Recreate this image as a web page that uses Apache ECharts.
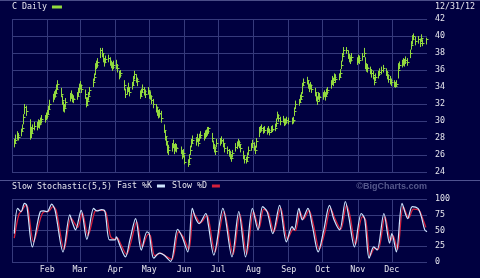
<!DOCTYPE html>
<html>
<head>
<meta charset="utf-8">
<script src="https://cdn.jsdelivr.net/npm/echarts@6/dist/echarts.min.js"></script>
<style>
    html, body { margin: 0; padding: 0; background: #000040; }
    #chart { width: 480px; height: 278px; }
</style>
</head>
<body>
<div id="chart"></div>
<script>
// C (Citigroup) daily bars, 2012 -- one row per trading week
var holidays = ['2012-01-02', '2012-01-16', '2012-02-20', '2012-04-06', '2012-05-28', '2012-07-04',
    '2012-09-03', '2012-10-29', '2012-10-30', '2012-11-22', '2012-12-25'];

var priceLow = [
    26.9, 27.3, 27.8, 27.7,
    28.2, 28.7, 29.6, 30.8, 30.6,
    27.8, 28.0, 28.6, 28.9,
    28.9, 29.2, 29.1, 29.5, 29.7,
    29.8, 30.1, 30.3, 30.8, 31.4,
    32.2, 32.5, 32.8, 33.2, 33.7,
    32.8, 31.9, 31.1, 31.0, 31.6,
    32.3, 32.6, 32.2, 32.1,
    32.5, 32.9, 33.4, 33.7, 33.3,
    32.6, 31.6, 31.8, 32.4, 33.0,
    34.0, 34.7, 35.4, 36.1, 36.3,
    37.4, 37.5, 36.9, 36.4, 36.8,
    36.9, 36.5, 36.2, 35.9, 36.1,
    36.1, 35.7, 34.9, 35.1,
    33.6, 32.7, 33.1, 33.4, 32.9,
    33.7, 34.2, 34.9, 34.5, 34.1,
    32.6, 32.9, 33.3, 33.0, 32.7,
    33.1, 32.6, 32.5, 32.0, 31.5,
    31.0, 30.6, 30.3, 30.4, 29.8,
    28.6, 27.7, 27.1, 26.2, 26.0,
    26.4, 26.8, 26.1, 26.4, 26.3,
    26.1, 25.5, 25.7, 24.9,
    24.6, 25.0, 26.0, 26.9, 27.3,
    27.1, 27.5, 27.0, 27.6, 27.9,
    27.7, 27.9, 28.1, 28.3, 28.5,
    27.5, 26.7, 26.3, 26.0, 26.9,
    27.1, 27.3, 26.9, 26.3,
    26.1, 25.8, 25.5, 25.2, 25.7,
    26.4, 26.7, 27.0, 26.8, 26.3,
    25.5, 25.0, 25.0, 25.3, 26.0,
    26.5, 26.9, 26.5, 26.1, 26.9,
    28.1, 28.6, 28.8, 28.5, 28.6,
    28.4, 28.6, 28.3, 28.6, 28.7,
    28.8, 29.3, 30.2, 29.9, 29.5,
    29.8, 29.4, 29.5, 29.7, 29.6,
    29.6, 29.7, 30.6, 31.4,
    31.8, 32.2, 32.5, 33.2, 34.1,
    34.3, 33.8, 33.4, 33.7, 33.3,
    32.9, 32.3, 31.9, 32.5, 32.3,
    32.5, 32.8, 32.4, 32.9, 33.1,
    33.8, 34.3, 34.1, 34.7, 34.5,
    34.8, 35.1, 36.1, 37.0, 37.7,
    37.9, 37.3, 36.9, 36.7, 37.0,
    36.6, 36.9, 36.7,
    37.1, 37.5, 36.1, 35.8, 35.7,
    35.5, 35.1, 34.9, 34.2, 34.7,
    35.0, 35.3, 35.5, 35.7,
    35.3, 34.9, 34.5, 34.3, 34.1,
    34.0, 33.9, 34.0, 35.0, 36.1,
    36.3, 36.5, 36.4, 36.7, 36.5,
    37.4, 38.4, 39.0, 39.5, 38.9,
    39.1, 38.7, 39.3, 38.8,
    39.0
];
var priceHigh = [
    27.9, 28.4, 28.8, 28.6,
    29.1, 29.6, 30.8, 32.0, 31.8,
    30.2, 29.3, 29.6, 29.9,
    29.9, 30.2, 30.1, 30.4, 30.7,
    30.7, 31.0, 31.3, 31.8, 32.5,
    33.2, 33.5, 33.7, 34.3, 34.8,
    33.9, 33.0, 32.3, 32.0, 32.7,
    33.3, 33.6, 33.2, 33.0,
    33.4, 33.9, 34.4, 34.7, 34.3,
    33.7, 32.8, 32.8, 33.4, 34.0,
    35.0, 35.6, 36.8, 37.1, 37.4,
    38.6, 38.6, 38.0, 37.4, 37.7,
    37.8, 37.5, 37.1, 36.9, 37.1,
    37.2, 36.7, 35.9, 36.0,
    34.8, 33.8, 34.0, 34.5, 33.9,
    34.6, 35.3, 35.9, 35.5, 35.1,
    33.6, 33.8, 34.3, 34.0, 33.7,
    34.0, 33.6, 33.5, 33.0, 32.6,
    32.0, 31.7, 31.3, 31.4, 31.2,
    29.6, 28.9, 28.2, 27.6, 27.2,
    27.4, 27.8, 27.2, 27.4, 27.3,
    27.0, 26.6, 26.7, 26.0,
    25.5, 26.1, 27.1, 27.9, 28.3,
    28.1, 28.5, 27.9, 28.5, 28.8,
    28.6, 28.9, 29.0, 29.3, 29.3,
    28.6, 27.7, 27.3, 27.0, 27.9,
    28.0, 28.2, 27.9, 27.3,
    27.0, 26.7, 26.5, 26.1, 26.6,
    27.4, 27.6, 27.9, 27.7, 27.3,
    26.5, 26.0, 25.8, 26.3, 27.0,
    27.4, 27.8, 27.5, 27.1, 28.0,
    29.3, 29.4, 29.6, 29.3, 29.4,
    29.2, 29.4, 29.1, 29.4, 29.5,
    29.7, 30.3, 31.1, 30.8, 30.5,
    30.6, 30.3, 30.3, 30.5, 30.4,
    30.4, 30.5, 31.6, 32.4,
    32.6, 33.1, 33.4, 34.5, 35.0,
    35.2, 34.8, 34.4, 34.6, 34.3,
    33.9, 33.3, 32.9, 33.4, 33.3,
    33.4, 33.6, 33.4, 33.8, 34.0,
    34.8, 35.3, 35.1, 35.6, 35.5,
    35.6, 36.1, 37.1, 38.0, 38.7,
    38.7, 38.3, 37.9, 37.6, 38.0,
    37.5, 37.8, 37.7,
    38.0, 38.6, 37.5, 36.8, 36.7,
    36.4, 36.1, 35.9, 35.2, 35.6,
    35.9, 36.2, 36.4, 36.6,
    36.2, 35.9, 35.5, 35.3, 35.0,
    34.8, 34.6, 34.8, 36.8, 37.0,
    37.2, 37.4, 37.3, 37.6, 37.4,
    38.4, 39.4, 40.1, 40.3, 39.9,
    40.0, 39.7, 40.2, 39.6,
    39.8
];
var priceClose = [
    27.4, 27.8, 28.3, 28.1,
    28.8, 29.2, 30.5, 31.6, 31.2,
    29.0, 28.6, 29.2, 29.4,
    29.4, 29.8, 29.6, 30.0, 30.2,
    30.3, 30.6, 30.8, 31.4, 32.0,
    32.8, 33.0, 33.3, 33.8, 34.3,
    33.2, 32.5, 31.6, 31.5, 32.2,
    32.8, 33.1, 32.7, 32.6,
    33.0, 33.4, 34.0, 34.2, 33.8,
    33.2, 31.9, 32.3, 33.0, 33.6,
    34.6, 35.2, 36.3, 36.6, 36.9,
    38.3, 38.0, 37.4, 36.9, 37.3,
    37.4, 37.0, 36.7, 36.4, 36.6,
    36.6, 36.2, 35.4, 35.6,
    34.2, 33.2, 33.6, 34.0, 33.4,
    34.2, 34.8, 35.5, 35.0, 34.7,
    33.0, 33.4, 33.8, 33.5, 33.2,
    33.6, 33.1, 33.0, 32.5, 32.0,
    31.6, 31.2, 30.8, 31.0, 30.4,
    29.0, 28.2, 27.6, 26.9, 26.6,
    27.0, 27.3, 26.6, 27.0, 26.8,
    26.6, 26.0, 26.2, 25.2,
    25.0, 25.6, 26.6, 27.4, 27.8,
    27.6, 28.0, 27.4, 28.1, 28.4,
    28.2, 28.4, 28.6, 28.8, 29.2,
    28.0, 27.2, 26.8, 26.5, 27.4,
    27.6, 27.8, 27.4, 26.8,
    26.6, 26.3, 26.0, 25.6, 26.2,
    27.0, 27.2, 27.5, 27.3, 26.8,
    26.0, 25.5, 25.3, 25.8, 26.6,
    27.0, 27.4, 27.0, 26.6, 27.6,
    28.8, 29.0, 29.2, 28.9, 29.0,
    28.8, 29.0, 28.7, 29.0, 29.1,
    29.2, 29.8, 30.7, 30.4, 30.0,
    30.2, 29.8, 29.9, 30.1, 30.0,
    30.0, 30.1, 31.2, 32.0,
    32.2, 32.6, 33.0, 34.2, 34.6,
    34.8, 34.3, 33.9, 34.2, 33.8,
    33.4, 32.8, 32.4, 33.0, 32.8,
    33.0, 33.2, 32.9, 33.4, 33.6,
    34.3, 34.8, 34.6, 35.2, 35.0,
    35.2, 35.6, 36.6, 37.6, 38.3,
    38.4, 37.8, 37.4, 37.2, 37.5,
    37.0, 37.4, 37.2,
    37.6, 38.0, 36.6, 36.3, 36.2,
    36.0, 35.6, 35.4, 34.6, 35.2,
    35.5, 35.8, 36.0, 36.2,
    35.8, 35.4, 35.0, 34.8, 34.6,
    34.3, 34.1, 34.4, 36.0, 36.6,
    36.8, 37.0, 36.9, 37.2, 37.0,
    38.0, 39.0, 39.6, 40.0, 39.4,
    39.6, 39.2, 39.8, 39.2,
    39.6
];

// Slow stochastic (5,5): turning points, x in day of year (Jan 1 = 0)
var kDays = [2, 5, 8, 11, 13, 18, 25, 28, 31, 35, 38, 45, 51, 53, 56, 61, 66, 72, 75, 79, 82, 86, 91, 92, 95,
    100, 104, 109, 114, 119, 121, 125, 130, 134, 140, 146, 150, 155, 159, 162, 165, 171, 173, 178, 186, 194,
    200, 206, 212, 217, 221, 225, 230, 236, 242, 247, 249, 253, 256, 261, 265, 270, 275, 280, 284, 289, 294,
    297, 302, 308, 311, 315, 319, 322, 328, 333, 335, 339, 344, 349, 353, 358, 361, 364, 366];
var kVals = [45, 85, 80, 93, 90, 24, 80, 81, 80, 92, 82, 16, 75, 64, 51, 82, 36, 85, 81, 83, 80, 35, 35, 40, 27,
    8, 35, 69, 19, 48, 45, 6, 14, 11, 1, 52, 40, 16, 85, 69, 61, 77, 61, 11, 85, 8,
    80, 8, 85, 51, 88, 80, 45, 90, 32, 56, 51, 85, 67, 85, 56, 16, 51, 90, 67, 51, 96,
    72, 24, 77, 69, 6, 24, 19, 77, 30, 45, 16, 93, 69, 88, 85, 72, 51, 48];
var dDays = [2, 6, 9, 12, 14, 19, 26, 29, 32, 36, 39, 46, 52, 55, 58, 62, 67, 73, 76, 80, 83, 87, 91, 93, 96,
    101, 105, 110, 115, 120, 122, 126, 131, 135, 141, 147, 151, 156, 160, 163, 166, 172, 174, 179, 187, 195,
    201, 207, 213, 218, 222, 226, 231, 237, 243, 248, 250, 254, 257, 262, 266, 271, 276, 281, 285, 290, 295,
    298, 303, 309, 312, 316, 320, 323, 329, 334, 336, 340, 345, 350, 354, 359, 362, 365];
var dVals = [38, 75, 82, 90, 86, 32, 74, 80, 80, 88, 82, 20, 70, 62, 55, 78, 42, 80, 82, 82, 78, 40, 36, 38, 28,
    12, 32, 64, 24, 44, 42, 10, 14, 10, 4, 48, 40, 20, 78, 70, 62, 74, 62, 16, 80, 12,
    76, 12, 80, 54, 84, 78, 48, 86, 36, 52, 50, 80, 68, 82, 58, 20, 48, 85, 68, 52, 90,
    74, 28, 72, 66, 10, 22, 20, 72, 34, 42, 20, 88, 70, 84, 82, 70, 55];

var monthLabels = ['Jan', 'Feb', 'Mar', 'Apr', 'May', 'Jun', 'Jul', 'Aug', 'Sep', 'Oct', 'Nov', 'Dec'];
var priceTicks = {min: 24, max: 42, interval: 2};
var stochTicks = {min: 0, max: 100, interval: 25};

function dayTime(d) {
    return new Date(2012, 0, 1 + d).getTime();
}

// trading days of 2012
var tradeDays = [];
for (var d = 0; d < 366; d++) {
    var dt = new Date(2012, 0, 1 + d);
    var wd = dt.getDay();
    var key = dt.getFullYear() + '-' + ('0' + (dt.getMonth() + 1)).slice(-2) + '-' + ('0' + dt.getDate()).slice(-2);
    if (wd === 0 || wd === 6 || holidays.indexOf(key) >= 0) continue;
    tradeDays.push(d);
}

var barData = [];
for (var i = 0; i < priceClose.length; i++) {
    barData.push([dayTime(tradeDays[i]), priceLow[i], priceHigh[i], priceClose[i]]);
}
var kData = kDays.map(function (d, i) { return [dayTime(d), kVals[i]]; });
var dData = dDays.map(function (d, i) { return [dayTime(d), dVals[i]]; });

var barColor = '#92da3e';
var gridColor = '#363a7c';
var textColor = '#e6e6ee';
var monoFont = 'DejaVu Sans Mono';
var DAY = 24 * 3600 * 1000;

function renderBar(params, api) {
    var lo = api.coord([api.value(0), api.value(1)]);
    var hi = api.coord([api.value(0), api.value(2)]);
    var cl = api.coord([api.value(0), api.value(3)]);
    var px = Math.round(lo[0]) + 0.5;
    var cy = Math.round(cl[1]) + 0.5;
    return {
        type: 'group',
        children: [
            {type: 'line', shape: {x1: px, y1: lo[1], x2: px, y2: hi[1]}, style: {stroke: barColor, lineWidth: 1}},
            {type: 'line', shape: {x1: px, y1: cy, x2: px + 2, y2: cy}, style: {stroke: barColor, lineWidth: 1}}
        ]
    };
}

function timeAxis(idx, showLabels) {
    return {
        type: 'time',
        gridIndex: idx,
        min: dayTime(0),
        max: dayTime(366),
        splitNumber: 12,
        minInterval: 28 * DAY,
        maxInterval: 31 * DAY,
        axisLine: {show: false},
        axisTick: {show: false},
        axisLabel: {
            show: showLabels,
            margin: 4,
            color: textColor,
            fontFamily: monoFont,
            fontSize: 8.3,
            showMinLabel: false,
            showMaxLabel: false,
            formatter: function (val) {
                var m = new Date(val).getMonth();
                return m === 0 ? '' : monthLabels[m];
            }
        },
        splitLine: {show: true, showMinLine: false, showMaxLine: false, lineStyle: {color: gridColor, width: 1}}
    };
}

function valueAxis(idx, ticks) {
    return {
        type: 'value',
        gridIndex: idx,
        position: 'right',
        min: ticks.min,
        max: ticks.max,
        interval: ticks.interval,
        axisLine: {show: false},
        axisTick: {show: false},
        axisLabel: {margin: 8, color: textColor, fontFamily: monoFont, fontSize: 8.3},
        splitLine: {show: true, lineStyle: {color: gridColor, width: 1}}
    };
}

var option = {
    backgroundColor: '#000040',
    animation: false,
    grid: [
        {left: 12, right: 53, top: 19, height: 153},
        {left: 12, right: 53, top: 199, height: 63}
    ],
    legend: [
        {
            left: 12, top: 3, padding: 0,
            align: 'right', itemWidth: 10, itemHeight: 3, icon: 'rect',
            data: ['C Daily'],
            textStyle: {color: textColor, fontFamily: monoFont, fontSize: 8.3, padding: 0}
        },
        {
            left: 117, top: 182, padding: 0,
            align: 'right', itemWidth: 8, itemHeight: 3, itemGap: 7, icon: 'rect',
            data: ['Fast %K', 'Slow %D'],
            textStyle: {color: textColor, fontFamily: monoFont, fontSize: 8.3, padding: 0}
        }
    ],
    xAxis: [timeAxis(0, false), timeAxis(1, true)],
    yAxis: [valueAxis(0, priceTicks), valueAxis(1, stochTicks)],
    graphic: [
        {type: 'line', shape: {x1: 0, y1: 0.5, x2: 480, y2: 0.5}, style: {stroke: '#4a4d88', lineWidth: 1}},
        {type: 'line', shape: {x1: 0, y1: 180.5, x2: 480, y2: 180.5}, style: {stroke: '#4f5290', lineWidth: 1}},
        {type: 'text', left: 435, top: 3,
            style: {text: '12/31/12', fill: textColor, font: '8.3px "DejaVu Sans Mono"'}},
        {type: 'text', left: 12, top: 183,
            style: {text: 'Slow Stochastic(5,5)', fill: textColor, font: '8.3px "DejaVu Sans Mono"'}},
        {type: 'text', right: 53, top: 182,
            style: {text: '\u00a9BigCharts.com', fill: '#55588c', font: 'bold 9px "Liberation Sans"'}}
    ],
    series: [
        {
            name: 'C Daily',
            type: 'custom',
            xAxisIndex: 0,
            yAxisIndex: 0,
            renderItem: renderBar,
            itemStyle: {color: barColor},
            encode: {x: 0, y: [1, 2, 3]},
            data: barData
        },
        {
            name: 'Slow %D',
            type: 'line',
            xAxisIndex: 1,
            yAxisIndex: 1,
            color: '#d6203c',
            showSymbol: false,
            smooth: 0.3,
            lineStyle: {width: 1.3},
            data: dData
        },
        {
            name: 'Fast %K',
            type: 'line',
            xAxisIndex: 1,
            yAxisIndex: 1,
            color: '#cfe6ff',
            showSymbol: false,
            smooth: 0.3,
            lineStyle: {width: 1.2},
            data: kData
        }
    ]
};

var mychart = echarts.init(document.getElementById('chart'));
mychart.setOption(option);
</script>
</body>
</html>
